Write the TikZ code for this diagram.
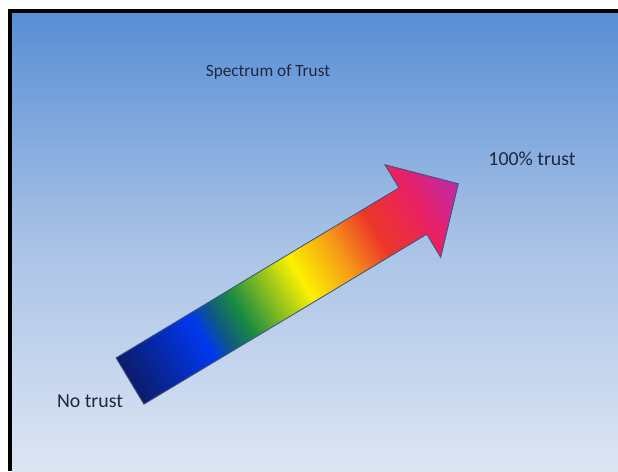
\documentclass[tikz,border=0pt]{standalone}
\usepackage{fontspec}
\setmainfont{Carlito}
\usetikzlibrary{positioning, calc}

\definecolor{skytop}{RGB}{88,142,213}
\definecolor{skymid}{RGB}{168,194,230}
\definecolor{skylow}{RGB}{221,229,243}
\definecolor{labeltext}{RGB}{30,40,62}
\definecolor{arrowedge}{RGB}{62,86,130}
\definecolor{trustnavy}{RGB}{12,28,105}
\definecolor{trustblue}{RGB}{0,55,240}
\definecolor{trustteal}{RGB}{15,90,130}
\definecolor{trustgreen}{RGB}{25,140,65}
\definecolor{trustyellow}{RGB}{252,242,0}
\definecolor{trustorange}{RGB}{246,155,22}
\definecolor{trustred}{RGB}{236,55,40}
\definecolor{trustpink}{RGB}{234,32,100}
\definecolor{trustmagenta}{RGB}{188,42,170}

\begin{document}
\begin{tikzpicture}[
        x=0.02cm, y=0.02cm,
        caption/.style={font=\fontsize{11.3}{13}\selectfont, text=labeltext, inner sep=0pt},
        heading/.style={caption, font=\fontsize{9.8}{12}\selectfont},
        trustedge/.style={draw=arrowedge, line width=0.5pt, line join=miter}
    ]
        % Page, sky background and frame
        \fill[white] (0,0) rectangle (618,471);
        \useasboundingbox (0,0) rectangle (618,471);
        \shade[bottom color=skylow, top color=skymid] (12,0) rectangle (618,230);
        \shade[bottom color=skymid, top color=skytop] (12,229) rectangle (618,458);
        \fill[black] (8,458) rectangle (618,462);
        \fill[black] (8,0) rectangle (12,462);

        % Labels
        \node[heading] (title) at (268,399) {Spectrum of Trust};
        \node[caption] (fulltrust) at (532,312) {100\% trust};
        \node[caption] (notrust) at (90,70) {No trust};

        % Rainbow arrow, built from thin strips along its own axis
        \begin{scope}[shift={(130,90)}, rotate=31]
            \begin{scope}
                \clip (0,-27) -- (330,-27) -- (330,-54) -- (383,0)
                    -- (330,54) -- (330,27) -- (0,27) -- cycle;
                \foreach \ua/\ub/\ca/\cb in {0/84/trustnavy/trustblue,
                        84/105/trustblue/trustteal, 105/130/trustteal/trustgreen,
                        130/199/trustgreen/trustyellow, 199/245/trustyellow/trustorange,
                        245/287/trustorange/trustred, 287/337/trustred/trustpink,
                        337/383/trustpink/trustmagenta}
                    \foreach \u in {\ua,...,\ub} {
                        \pgfmathtruncatemacro\mixpct{100*(\ub-\u)/(\ub-\ua)}
                        \fill[fill={\ca!\mixpct!\cb}] (\u,-60) rectangle (\u+1.8,60);
                    }
            \end{scope}
            \draw[trustedge] (0,-27) -- (330,-27) -- (330,-54) -- (383,0)
                -- (330,54) -- (330,27) -- (0,27) -- cycle;
        \end{scope}
    \end{tikzpicture}
\end{document}
